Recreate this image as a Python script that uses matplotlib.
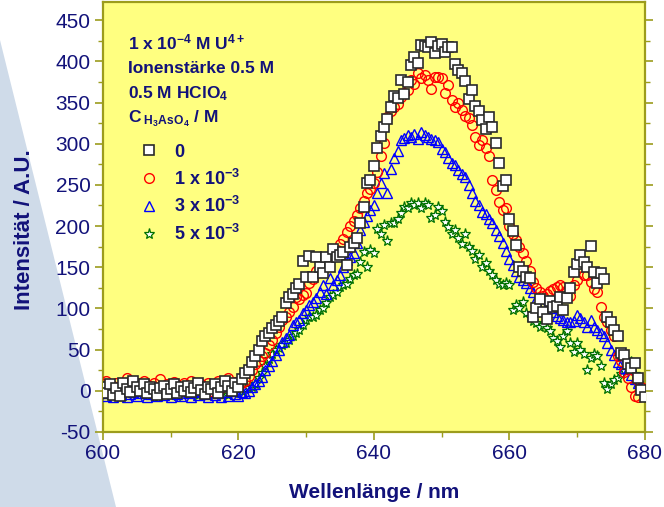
import numpy as np
import matplotlib
matplotlib.use("Agg")
import matplotlib.pyplot as plt
from matplotlib.patches import Polygon
from matplotlib.lines import Line2D

plt.rcParams['font.family'] = ['Liberation Sans', 'DejaVu Sans']
plt.rcParams['mathtext.fontset'] = 'custom'
plt.rcParams['mathtext.rm'] = 'Liberation Sans:bold'
plt.rcParams['mathtext.bf'] = 'Liberation Sans:bold'
plt.rcParams['mathtext.default'] = 'bf'
plt.rcParams['axes.unicode_minus'] = False

# Wavelength grid (nm), 0.5 nm steps
wavelength = np.arange(600, 680.5, 0.5)

# Emission intensity (A.U.) for each H3AsO4 concentration
intensity_0 = [
    5, -3, 8, -5, 3, -6, 10, 2, -2, 12,
    4, 0, 8, -3, 5, 2, -5, 3, 6, -4,
    2, 8, -3, 4, 0, 6, -2, 3, 10, 1,
    -4, 5, 2, 8, -3, 4, 12, 6, 0, 10,
    4, 14, 22, 25, 35, 42, 50, 60, 66, 70,
    76, 80, 85, 90, 107, 114, 118, 125, 130, 157,
    138, 164, 138, 163, 150, 143, 163, 150, 172, 163,
    165, 169, 153, 175, 180, 185, 204, 223, 252, 256,
    273, 295, 309, 320, 330, 345, 358, 356, 377, 360,
    375, 395, 405, 398, 420, 419, 418, 423, 410, 419,
    421, 411, 418, 417, 397, 390, 386, 376, 354, 365,
    346, 340, 329, 318, 332, 320, 301, 277, 249, 256,
    208, 194, 177, 150, 145, 138, 137, 90, 100, 112,
    96, 87, 109, 102, 103, 114, 98, 113, 125, 144,
    154, 165, 156, 150, 176, 144, 131, 143, 136, 90,
    83, 74, 66, 46, 44, 32, 28, 34, 16, 1,
    -8,
]
intensity_1 = [
    8, 12, 2, 6, 10, 0, 5, 15, 8, 3,
    10, 4, 12, 0, 6, 9, 2, 14, 5, 8,
    3, 11, 7, 0, 9, 4, 12, 6, 2, 8,
    5, 10, 0, 7, 12, 3, 9, 15, 6, 11,
    8, 10, 12, 18, 25, 32, 36, 42, 46, 55,
    62, 70, 78, 86, 90, 96, 102, 114, 112, 116,
    119, 131, 136, 145, 148, 151, 155, 163, 165, 171,
    178, 184, 193, 200, 206, 214, 222, 230, 240, 245,
    252, 266, 285, 301, 332, 340, 345, 348, 357, 362,
    365, 377, 373, 386, 380, 384, 377, 366, 381, 381,
    380, 361, 371, 353, 345, 350, 341, 334, 331, 323,
    308, 298, 304, 295, 285, 256, 244, 229, 220, 222,
    200, 190, 183, 175, 167, 157, 145, 132, 125, 120,
    115, 118, 121, 124, 126, 128, 126, 122, 115, 129,
    135, 150, 141, 141, 132, 124, 120, 102, 90, 84,
    74, 66, 42, 36, 23, 15, 5, -6, -8, 5,
    -5,
]
intensity_3 = [
    -3, -6, 0, -8, -2, -5, 2, -7, -4, -1,
    -6, -3, 1, -8, -4, -2, -6, 0, -5, -3,
    -7, -1, -4, -6, 2, -3, -8, -2, -5, 0,
    -4, -7, -1, -5, -3, -8, -2, -6, 0, -4,
    -6, -2, -3, 0, 4, 8, 12, 17, 25, 30,
    36, 44, 50, 59, 64, 68, 80, 84, 86, 95,
    98, 104, 108, 113, 120, 129, 117, 137, 129, 135,
    140, 150, 159, 163, 167, 180, 195, 205, 212, 220,
    226, 240, 252, 264, 240, 269, 283, 291, 305, 307,
    310, 308, 312, 306, 314, 310, 308, 306, 304, 302,
    294, 290, 283, 277, 274, 268, 263, 260, 250, 240,
    231, 226, 217, 215, 208, 204, 195, 188, 180, 170,
    160, 153, 146, 138, 134, 131, 125, 120, 112, 108,
    104, 103, 101, 96, 91, 88, 86, 84, 83, 85,
    92, 88, 84, 78, 86, 78, 74, 70, 67, 58,
    50, 44, 35, 32, 28, 26, 19, 14, 10, 5,
    0,
]
intensity_5 = [
    -2, 2, -5, 0, -3, 3, -6, -1, 1, -4,
    0, -3, 2, -5, -1, -8, 1, -2, -4, 2,
    -3, 0, -6, 2, -2, -4, 1, -3, -5, 0,
    -2, 3, -4, -1, 1, -3, 0, -5, 2, -1,
    -3, 0, 2, 3, 5, 8, 15, 22, 30, 38,
    45, 50, 52, 55, 58, 62, 66, 70, 74, 80,
    86, 89, 90, 92, 98, 100, 107, 114, 116, 120,
    126, 128, 130, 136, 140, 142, 156, 168, 150, 171,
    167, 196, 190, 201, 182, 204, 204, 208, 216, 223,
    222, 228, 226, 228, 222, 228, 225, 210, 214, 223,
    218, 205, 199, 190, 195, 185, 178, 190, 175, 170,
    160, 165, 150, 155, 145, 140, 135, 130, 129, 131,
    129, 98, 104, 101, 108, 95, 90, 85, 82, 78,
    80, 76, 72, 64, 60, 53, 66, 72, 58, 47,
    58, 50, 45, 25, 40, 45, 42, 30, 10, 2,
    8, 13, 15, 20, 25, 30, 35, 20, 10, 5,
    0,
]

legend_labels = ['0',
                 r'1 x 10$^{-3}$',
                 r'3 x 10$^{-3}$',
                 r'5 x 10$^{-3}$']
info_lines = [r'1 x 10$^{-4}$ M U$^{4+}$',
              'Ionenstärke 0.5 M',
              r'0.5 M HClO$_{4}$',
              r'C$_{\;\mathrm{H}_{3}\mathrm{AsO}_{4}}$ / M']

navy = '#12127a'
olive = '#9c9c1c'

fig = plt.figure(figsize=(6.64, 5.07), dpi=100)
fig.patch.set_facecolor('white')
fig.patches.append(Polygon([[0, 0.921], [0, 0], [0.175, 0]], closed=True,
                           transform=fig.transFigure, facecolor='#cfdbe9',
                           edgecolor='none', zorder=-5))

ax = fig.add_axes([0.155, 0.148, 0.816, 0.848])
ax.set_facecolor('#ffff80')

styles = [
    dict(marker='s', ms=6.5, mfc='white', mec='#2a2a2a', mew=1.2),
    dict(marker='o', ms=7.0, mfc='none', mec='#ff0000', mew=1.0),
    dict(marker='^', ms=7.5, mfc='none', mec='#0000ff', mew=1.0),
    dict(marker='*', ms=8.0, mfc='white', mec='#007000', mew=0.9),
]
series = [intensity_0, intensity_1, intensity_3, intensity_5]
zorders = [5, 4, 3, 2]

handles = []
for vals, st, z, lab in zip(series, styles, zorders, legend_labels):
    ax.plot(wavelength, vals, ls='none', zorder=z, **st)
    handles.append(Line2D([], [], ls='none', label=lab, **st))

ax.set_xlim(600, 680)
ax.set_ylim(-50, 472)
ax.set_xticks(np.arange(600, 681, 20))
ax.set_xticks(np.arange(600, 681, 10), minor=True)
ax.set_yticks(np.arange(-50, 451, 50))
ax.set_yticks(np.arange(-50, 471, 25), minor=True)

for sp in ax.spines.values():
    sp.set_color(olive)
    sp.set_linewidth(1.6)

ax.tick_params(axis='both', which='major', direction='out', length=6,
               width=1.2, color=olive, labelsize=15, labelcolor=navy, pad=3)
ax.tick_params(axis='both', which='minor', direction='out', length=3.5,
               width=1.0, color=olive)
ax.tick_params(axis='y', which='both', right=True)
ax.tick_params(axis='y', which='both', right=True, length=2.5)
ax.tick_params(axis='y', which='major', left=True, length=6)
ax.tick_params(axis='y', which='minor', left=True, length=3.5)

ax.set_xlabel('Wellenlänge / nm', fontsize=15, fontweight='bold', color=navy)
ax.set_ylabel('Intensität / A.U.', fontsize=16, fontweight='bold', color=navy)
ax.xaxis.set_label_coords(0.5, -0.118)
ax.yaxis.set_label_coords(-0.126, 0.47)

text_y = [0.905, 0.845, 0.787, 0.728]
for line, ty in zip(info_lines, text_y):
    ax.text(0.046, ty, line, transform=ax.transAxes, fontsize=12.5,
            fontweight='bold', color=navy, va='center', ha='left')

leg = ax.legend(handles=handles, loc='upper left',
                bbox_to_anchor=(0.045, 0.7), frameon=False,
                prop={'weight': 'bold', 'size': 13}, labelcolor=navy,
                handlelength=1.0, handletextpad=0.9, labelspacing=0.43,
                borderpad=0.2)
leg.set_zorder(10)

fig.savefig('out.png', dpi=100)
